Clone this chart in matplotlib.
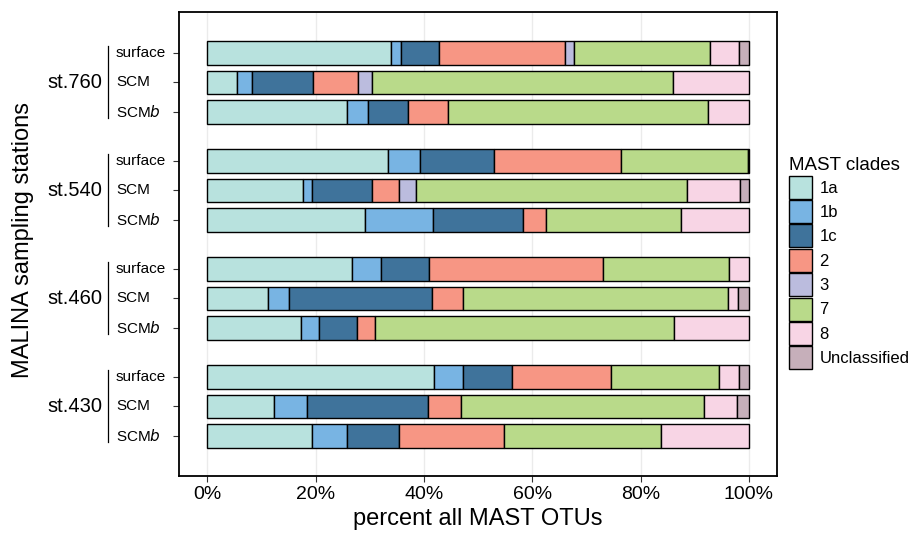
import matplotlib
matplotlib.use("Agg")
import matplotlib.pyplot as plt
import matplotlib.transforms as mtransforms
from matplotlib.patches import Patch

plt.rcParams['font.family'] = ['Liberation Sans', 'DejaVu Sans']

stations = ['st.760', 'st.540', 'st.460', 'st.430']
depths = ['surface', 'SCM', 'SCMb']
clades = ['1a', '1b', '1c', '2', '3', '7', '8', 'Unclassified']
colors = ['#B8E2DE', '#78B4E3', '#3F739B', '#F79684', '#BBBCDE', '#B9DA8A', '#F8D5E5', '#C6AFBA']

# percent of MAST OTUs, one row per station/depth, columns follow `clades`
st760 = [[33.9, 1.9, 7.0, 23.2, 1.8, 25.0, 5.4, 1.8],
         [5.5, 2.8, 11.2, 8.3, 2.7, 55.5, 14.0, 0.0],
         [25.9, 3.7, 7.4, 7.4, 0.0, 48.1, 7.5, 0.0]]
st540 = [[33.4, 5.9, 13.7, 23.4, 0.0, 23.4, 0.0, 0.2],
         [17.7, 1.6, 11.2, 4.9, 3.2, 50.0, 9.7, 1.7],
         [29.2, 12.4, 16.7, 4.2, 0.0, 24.9, 12.6, 0.0]]
st460 = [[26.7, 5.4, 8.9, 32.1, 0.0, 23.3, 3.6, 0.0],
         [11.3, 3.8, 26.4, 5.7, 0.0, 48.9, 1.9, 2.0],
         [17.3, 3.4, 6.9, 3.4, 0.0, 55.2, 13.8, 0.0]]
st430 = [[41.8, 5.4, 9.1, 18.2, 0.0, 20.0, 3.6, 1.9],
         [12.3, 6.1, 22.4, 6.1, 0.0, 44.8, 6.2, 2.1],
         [19.4, 6.4, 9.7, 19.3, 0.0, 29.0, 16.2, 0.0]]
data = [st760, st540, st460, st430]

group_step = 3.66
fig = plt.figure(figsize=(9.1, 5.34), dpi=100)
ax = fig.add_axes([179 / 910, 1 - 476 / 534, 598 / 910, 464 / 534])

ypos = []
for g, rows in enumerate(data):
    for i, row in enumerate(rows):
        y = g * group_step + i
        ypos.append(y)
        left = 0.0
        for c, v in enumerate(row):
            if v > 0:
                ax.barh(y, v, left=left, height=0.8, color=colors[c],
                        edgecolor='black', linewidth=1.0, zorder=3)
            left += v

ax.set_xlim(-5.2, 105.2)
ax.set_ylim(3 * group_step + 2 + 1.36, -1.39)
ax.set_xticks([0, 20, 40, 60, 80, 100])
ax.set_xticklabels(['0%', '20%', '40%', '60%', '80%', '100%'], fontsize=14)
ax.set_yticks(ypos)
ax.set_yticklabels([])
ax.grid(axis='x', color='#EBEBEB', linewidth=1.0, zorder=0)
ax.tick_params(axis='both', length=4, width=0.8, color='#333333')
ax.tick_params(axis='x', pad=3)
for s in ax.spines.values():
    s.set_linewidth(1.3)
ax.set_xlabel('percent all MAST OTUs', fontsize=17, labelpad=4)

trans = mtransforms.blended_transform_factory(fig.transFigure, ax.transData)
for g, st in enumerate(stations):
    base = g * group_step
    for i, d in enumerate(depths):
        label = 'SCM$\\it{b}$' if d == 'SCMb' else d
        ax.text(116 / 910, base + i, label, transform=trans, fontsize=11,
                ha='left', va='center')
    ax.text(102 / 910, base + 1, st, transform=trans, fontsize=14.5,
            ha='right', va='center')
    ax.plot([108 / 910, 108 / 910], [base - 0.25, base + 2.2], transform=trans,
            color='black', linewidth=0.9, clip_on=False)

fig.text(23 / 910, 1 - 240 / 534, 'MALINA sampling stations', rotation=90,
         fontsize=17, ha='center', va='center')

handles = [Patch(facecolor=c, edgecolor='black', linewidth=1.0) for c in colors]
leg = fig.legend(handles, clades, loc='upper left', bbox_to_anchor=(786 / 910, 1 - 154 / 534),
                 frameon=False, fontsize=12, title='MAST clades', title_fontsize=13.5,
                 handlelength=1.35, handleheight=1.75, labelspacing=0.08,
                 handletextpad=0.45, borderpad=0.2, borderaxespad=0)
leg._legend_box.align = 'left'

fig.savefig('out.png', dpi=100)
